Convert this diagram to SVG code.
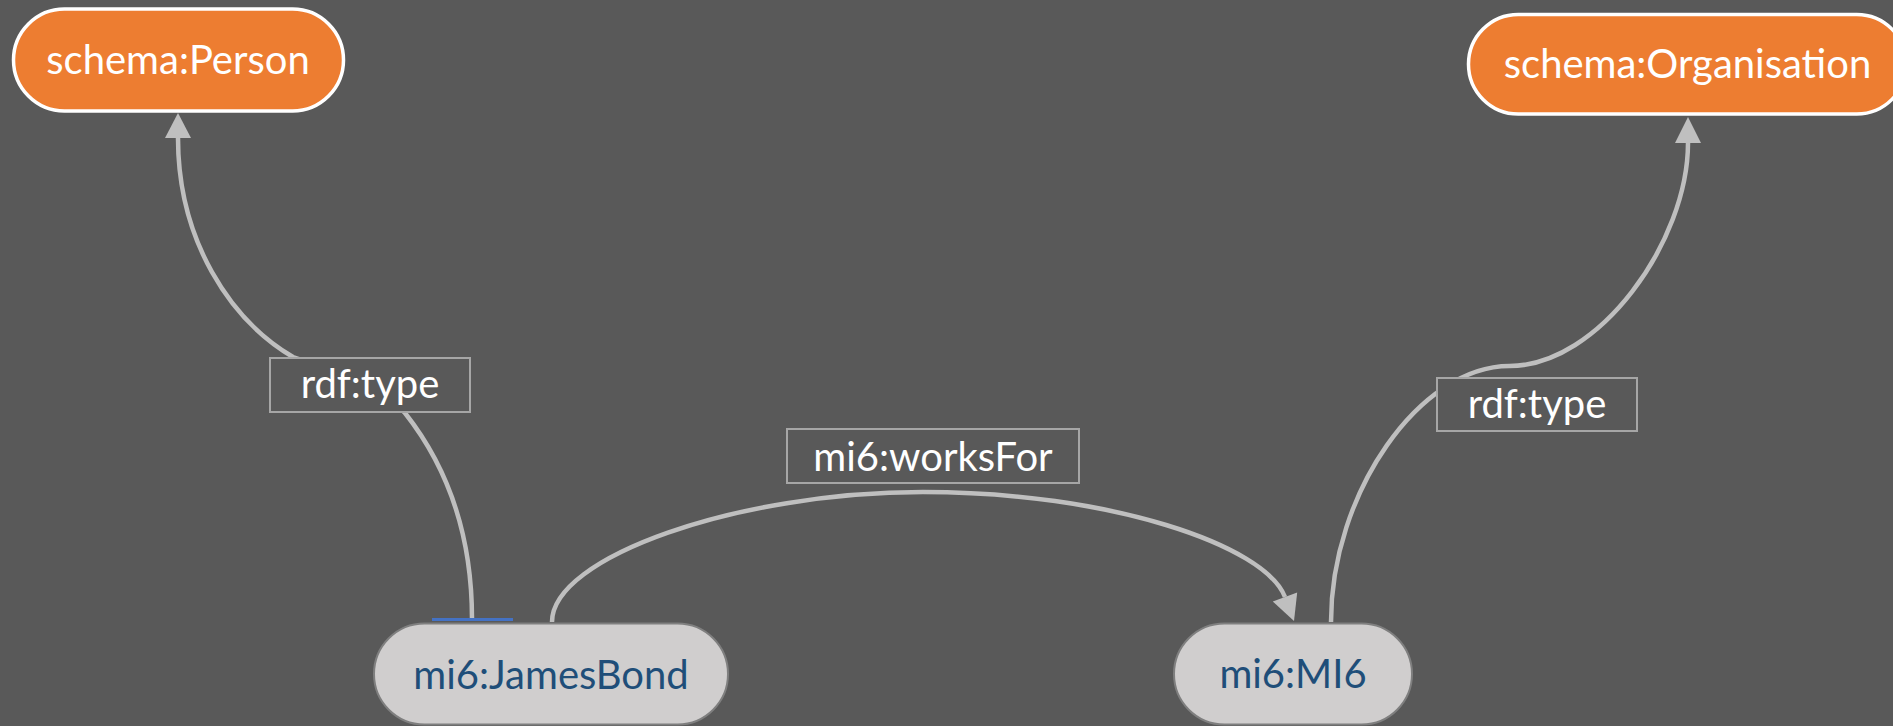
<svg xmlns="http://www.w3.org/2000/svg" width="1893" height="726" viewBox="0 0 1893 726">
<style>
.bg{fill:#595959}
.conn{fill:none;stroke:#bfbfbf;stroke-width:4.5}
.arrow{fill:#bfbfbf}
.cls rect{fill:#ed7d31;stroke:#ffffff;stroke-width:3.5}
.cls text{fill:#ffffff}
.inst rect{fill:#d0cece;stroke:#7f7f7f;stroke-width:2}
.inst text{fill:#1f4e79}
.lbl rect{fill:#595959;stroke:#a6a6a6;stroke-width:2}
.lbl text{fill:#ffffff}
text{font-family:Lato,"Liberation Sans",sans-serif;font-size:40px;font-weight:400;text-anchor:middle}
</style>
<rect class="bg" x="0" y="0" width="1893" height="726"/>
<g id="connectors">
  <path class="conn" d="M472,619 C472,540 450,470 405,413 C380,381 330,370 293,357 C230,320 178,240 178,138"/>
  <polygon class="arrow" points="178,113 191,138 165,138"/>
  <path class="conn" d="M552,622 C552,557 737.5,492 923,492 C1108.5,492 1265,545 1285,597"/>
  <polygon class="arrow" points="1294,621 1272.8,601.6 1297.2,592.4"/>
  <path class="conn" d="M1331,622 C1331,493 1420,366 1509.5,366 C1599,366 1688,241.5 1688,143"/>
  <polygon class="arrow" points="1688,117 1701,143 1675,143"/>
</g>
<g id="label-type1" class="lbl">
  <rect x="270" y="358" width="200" height="54"/>
  <text x="370" y="398">rdf:type</text>
</g>
<g id="label-type2" class="lbl">
  <rect x="1437" y="378" width="200" height="53"/>
  <text x="1537" y="418">rdf:type</text>
</g>
<g id="label-worksFor" class="lbl">
  <rect x="787" y="429" width="292" height="54"/>
  <text x="933" y="471">mi6:worksFor</text>
</g>
<g id="node-person" class="cls">
  <rect x="13.5" y="9" width="330" height="102" rx="51" ry="51"/>
  <text x="178" y="74">schema:Person</text>
</g>
<g id="node-organisation" class="cls">
  <rect x="1468.5" y="14.5" width="438" height="99.5" rx="49.75" ry="49.75"/>
  <text x="1687.5" y="78">schema:Organisation</text>
</g>
<g id="node-jamesbond" class="inst">
  <rect x="374" y="623.5" width="354" height="101" rx="50.5" ry="50.5"/>
  <text x="551" y="689">mi6:JamesBond</text>
</g>
<rect x="432" y="618" width="81" height="3" fill="#4472c4"/>
<g id="node-mi6" class="inst">
  <rect x="1174" y="623.5" width="238" height="101" rx="50.5" ry="50.5"/>
  <text x="1293" y="688">mi6:MI6</text>
</g>
</svg>
